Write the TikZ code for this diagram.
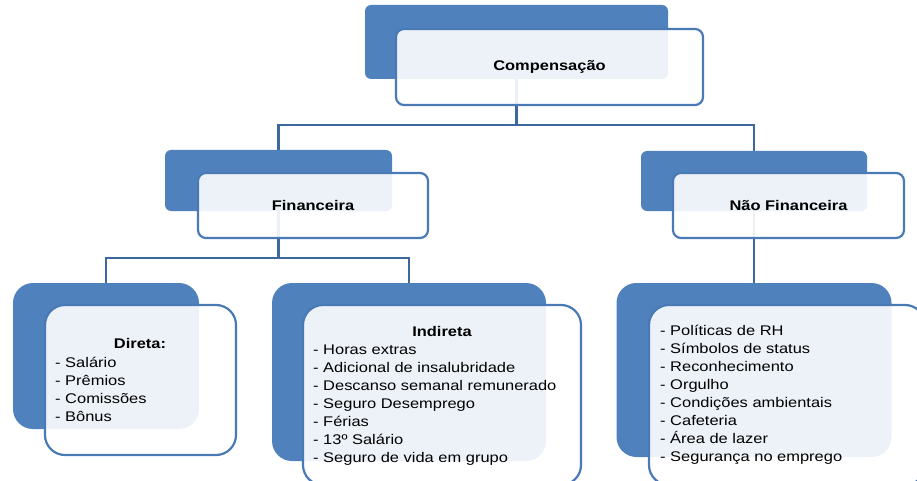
\documentclass[tikz,border=0pt]{standalone}
\usepackage{fontspec}
\setmainfont{Liberation Sans}[FakeStretch=1.175]
\usetikzlibrary{backgrounds}
\definecolor{sblue}{RGB}{79,129,189}
\definecolor{bord}{RGB}{74,122,181}
\definecolor{connc}{RGB}{60,104,158}
\begin{document}
\begin{tikzpicture}[x=1pt,y=-1pt,
  bluebox/.style={fill=sblue, draw=none, inner sep=0pt, rounded corners=#1},
  textbox/.style={fill=white, fill opacity=0.9, text opacity=1, draw=bord, line width=2.2pt, inner sep=0pt, rounded corners=#1},
  ttl/.style={font=\fontsize{14}{18}\selectfont\bfseries, text=black},
  item/.style={font=\fontsize{14}{18}\selectfont, text=black, inner sep=0pt, anchor=base west},
  head/.style={font=\fontsize{14}{18}\selectfont\bfseries, text=black, inner sep=0pt, anchor=base},
  conn/.style={draw=connc, line width=2.5pt}]
\useasboundingbox (0,0) rectangle (917,481);

% level 0
\node[bluebox=6pt, minimum width=303pt, minimum height=74pt] (cb) at (516.5,42) {};
\node[textbox=8pt, ttl, minimum width=307pt, minimum height=76pt] (cw) at (549.5,67) {Compensação};

% level 1
\node[bluebox=6pt, minimum width=227pt, minimum height=61pt] (fb) at (278.5,180.5) {};
\node[textbox=8pt, ttl, minimum width=230pt, minimum height=65pt] (fw) at (313,205.5) {Financeira};
\node[bluebox=6pt, minimum width=226pt, minimum height=60pt] (nb) at (754,181) {};
\node[textbox=8pt, ttl, minimum width=231pt, minimum height=65pt] (nw) at (788.5,205.5) {Não Financeira};

% level 2
\node[bluebox=20pt, minimum width=186pt, minimum height=146pt] (db) at (106,356) {};
\node[textbox=20pt, minimum width=191pt, minimum height=150pt] (dw) at (140.5,380) {};
\node[bluebox=20pt, minimum width=274pt, minimum height=178pt] (ib) at (409,372) {};
\node[textbox=20pt, minimum width=278pt, minimum height=180pt] (iw) at (442,395) {};
\node[bluebox=20pt, minimum width=275pt, minimum height=174pt] (nc) at (754,370) {};
\node[textbox=20pt, minimum width=276pt, minimum height=180pt] (ncw) at (787,395) {};

% texts
\node[head] (dh) at (140,348) {Direta:};
\foreach \t [count=\i from 0] in {Salário, Prêmios, Comissões, Bônus}
  \node[item] (d\i) at (55,367+18*\i) {- \t};
\node[head] (ih) at (442,336) {Indireta};
\foreach \t [count=\i from 0] in {Horas extras, Adicional de insalubridade, Descanso semanal remunerado, Seguro Desemprego, Férias, 13º Salário, Seguro de vida em grupo}
  \node[item] (i\i) at (313,354+18*\i) {- \t};
\foreach \t [count=\i from 0] in {Políticas de RH, Símbolos de status, Reconhecimento, Orgulho, Condições ambientais, Cafeteria, Área de lazer, Segurança no emprego}
  \node[item] (n\i) at (660,335+18*\i) {- \t};

% connectors
\begin{scope}[on background layer]
\coordinate (j1) at (516.5,125);
\coordinate (j2) at (278.5,258);
\draw[conn] (cb.south) -- (j1) -| (fb.north);
\draw[conn] (j1) -| (nb.north);
\draw[conn] (fb.south) -- (j2) -| (db.north);
\draw[conn] (j2) -| (ib.north);
\draw[conn] (nb.south) -- (nc.north);
\end{scope}
\end{tikzpicture}
\end{document}
